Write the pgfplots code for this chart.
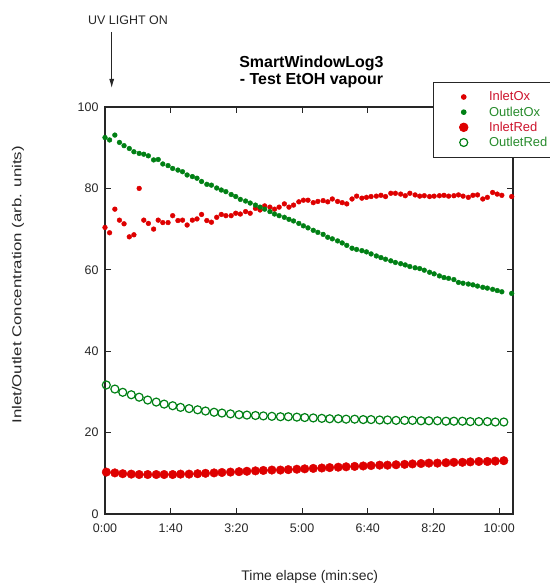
\documentclass[border=0pt]{standalone}
\usepackage{fontspec}
\setmainfont{Liberation Sans}
\usepackage{graphicx}
\usepackage{pgfplots}
\usepackage{pgfplotstable}
\pgfplotsset{compat=1.18}
\usetikzlibrary{arrows.meta}

\definecolor{dotred}{RGB}{222,0,0}
\definecolor{dotgreen}{RGB}{0,128,20}
\definecolor{legred}{RGB}{205,20,45}
\definecolor{leggreen}{RGB}{40,140,45}

% time (s), InletOx, OutletOx
\pgfplotstableread{
t inox outox
0 70.4 92.5
7 69.1 91.9
15 74.9 93.1
22 72.2 91.3
29 71.3 90.5
37 68.1 89.8
44 68.6 89.0
52 80.0 88.6
59 72.2 88.4
66 71.4 88.0
74 70.0 87.0
81 72.2 87.1
88 71.6 86.0
96 71.6 85.6
103 73.3 84.9
111 72.1 84.5
118 72.2 84.1
125 71.0 83.3
133 72.2 82.9
140 72.5 82.5
147 73.6 81.7
155 72.1 81.0
162 71.7 80.8
170 72.9 80.1
177 73.6 79.6
184 73.3 79.2
192 73.3 78.5
199 73.9 78.0
206 73.7 77.3
214 74.3 76.9
221 73.9 76.4
229 75.1 75.9
236 74.7 75.4
243 75.7 74.9
251 75.4 74.3
258 74.9 73.7
265 75.4 73.3
273 76.2 72.9
280 75.4 72.4
287 75.9 72.0
295 76.7 71.4
302 77.1 70.8
309 77.1 70.3
317 76.5 69.7
324 76.8 69.2
332 77.0 68.7
339 76.7 68.0
346 77.4 67.6
354 76.8 67.1
361 76.5 66.6
368 76.2 66.0
376 77.4 65.3
383 78.1 65.0
391 77.6 64.7
398 77.8 64.4
405 78.0 63.9
413 78.1 63.4
420 78.3 63.0
427 78.0 62.6
435 78.8 62.2
442 78.8 61.8
450 78.6 61.5
457 78.2 61.2
464 78.8 60.8
472 78.4 60.5
479 78.1 60.3
486 78.2 59.9
494 78.0 59.4
501 78.1 59.0
509 78.2 58.5
516 78.3 58.1
523 78.1 57.9
531 78.2 57.6
538 78.4 56.9
545 78.1 56.7
553 77.8 56.5
560 78.3 56.3
567 78.4 56.0
575 77.4 55.7
582 77.8 55.5
590 79.0 55.2
597 78.6 54.9
604 78.3 54.6
619 78.0 54.2
}\oxdata

% time (s), InletRed, OutletRed
\pgfplotstableread{
t inred outred
2 10.3 31.7
15 10.1 30.7
27 9.9 29.9
40 9.8 29.3
52 9.7 28.7
65 9.7 28.0
78 9.7 27.5
90 9.7 27.0
103 9.7 26.6
115 9.8 26.2
128 9.8 25.9
141 9.9 25.6
153 10.0 25.3
166 10.1 25.0
178 10.2 24.8
191 10.3 24.6
204 10.4 24.4
216 10.5 24.3
229 10.6 24.2
241 10.7 24.1
254 10.8 24.0
267 10.8 23.9
279 10.9 23.9
292 11.0 23.8
304 11.1 23.7
317 11.2 23.6
330 11.3 23.5
342 11.4 23.4
355 11.5 23.4
367 11.6 23.3
380 11.7 23.3
393 11.8 23.2
405 11.9 23.2
418 12.0 23.1
430 12.0 23.1
443 12.1 23.0
456 12.2 23.0
468 12.3 23.0
481 12.4 22.9
493 12.5 22.9
506 12.5 22.9
519 12.6 22.8
531 12.7 22.8
544 12.7 22.8
556 12.8 22.7
569 12.9 22.7
582 12.9 22.7
594 13.0 22.6
607 13.1 22.6
}\reddata

\begin{document}
\begin{tikzpicture}
\useasboundingbox (-105bp,-69bp) rectangle (445bp,514bp);
\begin{axis}[
  at={(0,0)}, anchor=south west,
  scale only axis,
  width=408bp, height=407bp,
  xmin=0, xmax=621, ymin=0, ymax=100,
  xtick={0,100,200,300,400,500,600},
  xticklabels={0:00,1:40,3:20,5:00,6:40,8:20,10:00},
  ytick={0,20,40,60,80,100},
  minor tick num=0,
  tick align=inside,
  major tick length=6bp,
  tick style={black!85, line width=0.9bp},
  axis line style={black!85, line width=1.1bp},
  /pgf/number format/assume math mode=true,
  tick label style={font=\fontsize{12.5}{14}\selectfont, text=black!85},
  xticklabel style={yshift=-6bp},
  yticklabel style={xshift=-3bp},
  xlabel={Time elapse (min:sec)},
  ylabel={\scalebox{1.3}[1]{Inlet/Outlet Concentration (arb. units)}},
  label style={font=\fontsize{13}{15}\selectfont, text=black!85},
  xlabel style={font=\fontsize{14}{16}\selectfont, at={(axis description cs:0.502,-0.155)}, anchor=center},
  ylabel style={at={(axis description cs:-0.213,0.563)}, anchor=center},
  title={SmartWindowLog3\\- Test EtOH vapour},
  title style={font=\fontsize{16}{16.6}\selectfont\bfseries, align=center,
    at={(axis description cs:0.506,1.071)}, anchor=center},
  legend style={at={(axis description cs:0.804,1.061)}, anchor=north west,
    draw=black!85, line width=0.8bp, fill=white,
    font=\fontsize{13}{15}\selectfont,
    inner xsep=26bp, inner ysep=7bp, row sep=0.3bp,
    /tikz/every odd column/.append style={column sep=19bp}},
  legend cell align=left,
]
\addplot[only marks, mark=*, mark size=2.4bp, dotred, mark options={draw=dotred, fill=dotred}]
  table[x=t, y=inox] {\oxdata};
\addlegendentry{\textcolor{legred}{InletOx}}
\addplot[only marks, mark=*, mark size=2.4bp, dotgreen, mark options={draw=dotgreen, fill=dotgreen}]
  table[x=t, y=outox] {\oxdata};
\addlegendentry{\textcolor{leggreen}{OutletOx}}
\addplot[only marks, mark=*, mark size=4.3bp, dotred, mark options={draw=dotred, fill=dotred}]
  table[x=t, y=inred] {\reddata};
\addlegendentry{\textcolor{legred}{InletRed}}
\addplot[only marks, mark=o, mark size=4bp, dotgreen, mark options={draw=dotgreen, line width=1.2bp, fill=white}]
  table[x=t, y=outred] {\reddata};
\addlegendentry{\textcolor{leggreen}{OutletRed}\hspace*{6bp}}
\end{axis}
\node[font=\fontsize{12.5}{14}\selectfont, text=black!85] at (23bp,494bp) {UV LIGHT ON};
\draw[-{Latex[length=9bp,width=5bp]}, line width=0.9bp, black!85] (6.7bp,482bp) -- (6.7bp,426bp);
\end{tikzpicture}
\end{document}
